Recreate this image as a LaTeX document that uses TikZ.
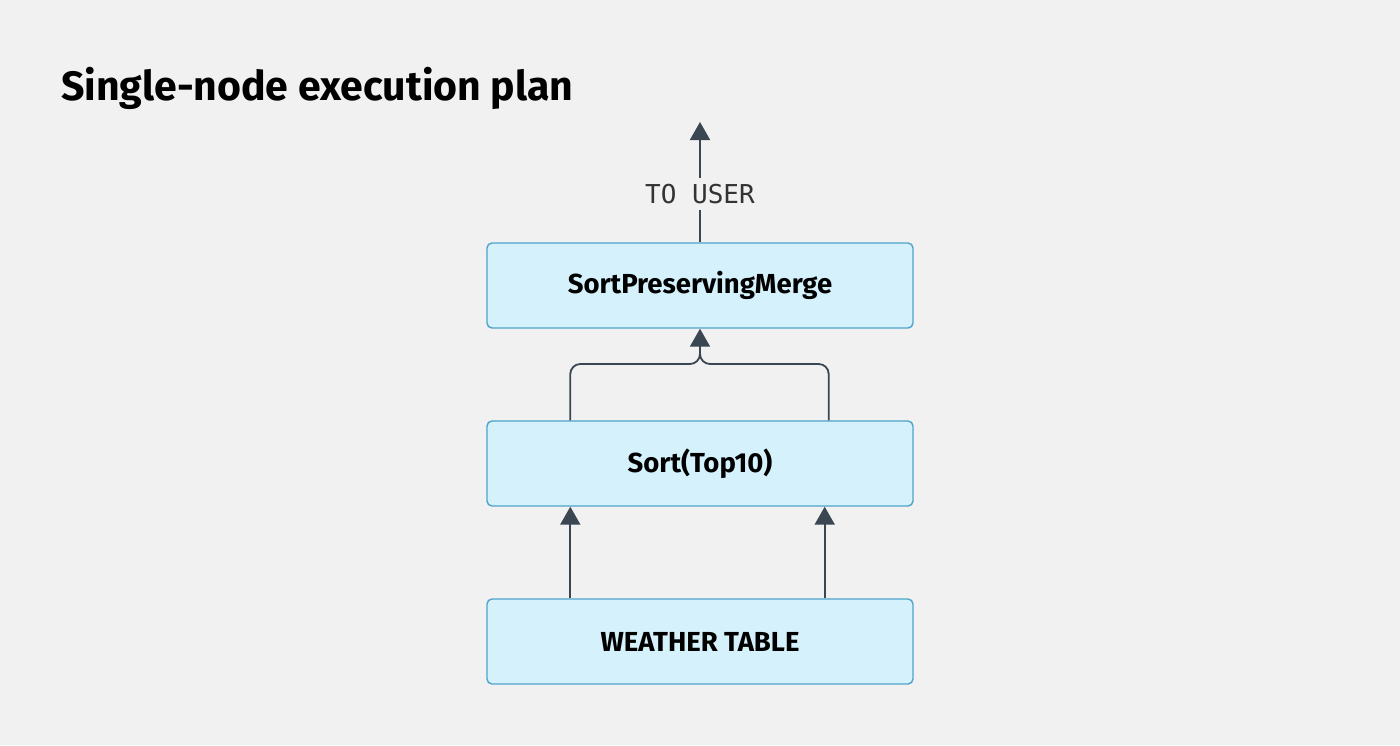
\documentclass[tikz,border=0pt]{standalone}
\usepackage{fontspec}
\setmainfont{Fira Sans}
\newfontfamily\monof{DejaVu Sans Mono}
\usetikzlibrary{arrows.meta}
\definecolor{bg}{HTML}{F1F1F1}
\definecolor{boxfill}{HTML}{D5F1FB}
\definecolor{boxline}{HTML}{4FA3CA}
\definecolor{arrowc}{HTML}{3A4651}
\definecolor{labelc}{HTML}{333333}
\tikzset{
  opbox/.style={draw=boxline, fill=boxfill, line width=1.4pt, rounded corners=5pt,
    minimum width=426pt, minimum height=85pt, inner sep=0pt,
    font=\fontsize{27.5}{32}\selectfont\bfseries, text=black},
  arr/.style={draw=arrowc, line width=1.8pt, -{Triangle[width=20pt,length=18pt]}},
  conn/.style={draw=arrowc, line width=1.8pt, rounded corners=10pt},
}
\begin{document}
\begin{tikzpicture}[x=1pt,y=-1pt]
\fill[bg] (0,0) rectangle (1400,745);
\useasboundingbox (0,0) rectangle (1400,745);
\node[anchor=base west, font=\fontsize{41}{48}\selectfont\bfseries, inner sep=0pt] (title) at (61,100) {Single-node execution plan};
\node[opbox] (spm) at (700,285.5) {SortPreservingMerge};
\node[opbox] (sort) at (700,463.5) {Sort(Top10)};
\node[opbox] (wt) at (700,641.5) {WEATHER TABLE};
\coordinate (user) at (700,122);
\draw[arr] (spm.north) -- (user);
\node[fill=bg, font=\monof\fontsize{26}{30}\selectfont, text=labelc, inner xsep=4pt, inner ysep=6pt] (lbl) at (700,194) {TO USER};
\coordinate (mj) at (700,364);
\coordinate (stem) at (700,344);
\draw[conn] ([xshift=84pt]sort.north west) |- (mj) -- (stem);
\draw[conn] ([xshift=-85pt]sort.north east) |- (mj) -- (stem);
\draw[arr] (stem) -- (spm.south);
\draw[arr] ([xshift=84pt]wt.north west) -- ([xshift=84pt]sort.south west);
\draw[arr] ([xshift=-89pt]wt.north east) -- ([xshift=-89pt]sort.south east);
\end{tikzpicture}
\end{document}
